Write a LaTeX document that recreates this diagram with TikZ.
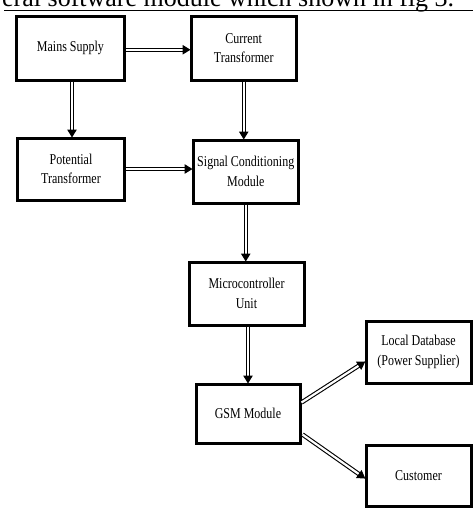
\documentclass[tikz,border=0pt]{standalone}
\usepackage{fontspec}
\setmainfont{Liberation Serif}
\newfontfamily\boxfont{Liberation Serif}[FakeStretch=0.8]
\usetikzlibrary{arrows.meta}
\begin{document}
\begin{tikzpicture}[x=1pt,y=-1pt,
  blk/.style={draw, line width=3pt, inner sep=0pt, align=center,
    font=\boxfont\fontsize{15}{19.5}\selectfont},
  dbl/.style={double=white, double distance=2.2pt, line width=1.1pt,
    -{Triangle[length=8pt,width=9.5pt]}, shorten >=-1pt}
]
\useasboundingbox (0,0) rectangle (473,523);
\clip (0,0) rectangle (473,523);
\node[anchor=base west, inner sep=0pt, font=\fontsize{26}{30}\selectfont] (cap) at (2,6) {eral software module which shown in fig 3.};
\draw[line width=1pt] (4,10.7) -- (473,10.7);

\node[blk, minimum width=108pt, minimum height=63.5pt] (ms) at (70.5,48.25) {Mains Supply};
\node[blk, minimum width=105.5pt, minimum height=63.5pt] (ct) at (243.75,48.25) {Current\\Transformer};
\node[blk, minimum width=107pt, minimum height=62pt] (pt) at (71,169) {Potential\\Transformer};
\node[blk, minimum width=105.5pt, minimum height=63pt] (scm) at (245.75,171.5) {Signal Conditioning\\Module};
\node[blk, minimum width=115pt, minimum height=63pt] (mcu) at (246.5,293.5) {Microcontroller\\Unit};
\node[blk, minimum width=104pt, minimum height=59pt] (gsm) at (248,413.5) {GSM Module};
\node[blk, minimum width=105pt, minimum height=62pt] (ld) at (418.5,352) {Local Database\\(Power Supplier)};
\node[blk, minimum width=105pt, minimum height=61pt] (cu) at (418.5,475.5) {Customer};

\draw[dbl] ([yshift=-1.5pt]ms.east) -- ([yshift=-1.5pt]ms.east -| ct.west);
\draw[dbl] ([xshift=1.5pt]ms.south) -- ([xshift=1.5pt]ms.south |- pt.north);
\draw[dbl] (ct.south) -- (ct.south |- scm.north);
\draw[dbl] (pt.east) -- (pt.east -| scm.west);
\draw[dbl] (scm.south) -- (scm.south |- mcu.north);
\draw[dbl] ([xshift=1.5pt]mcu.south) -- ([xshift=1.5pt]mcu.south |- gsm.north);
\draw[dbl] ([yshift=11pt]gsm.east) -- ([yshift=-10pt]ld.west);
\draw[dbl] ([yshift=-21pt,xshift=1pt]gsm.east) -- ([yshift=-2.5pt]cu.west);
\end{tikzpicture}
\end{document}
